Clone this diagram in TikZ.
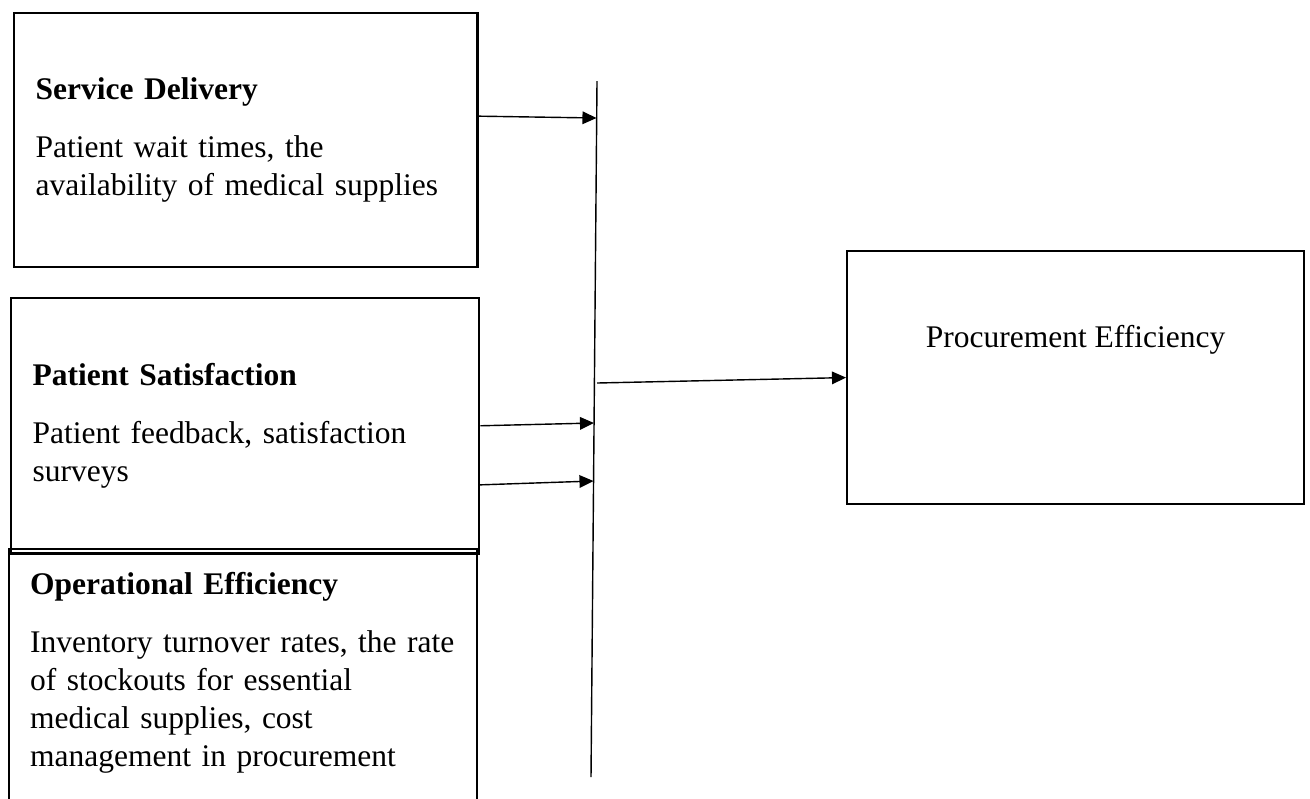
\documentclass[tikz,border=0pt]{standalone}
\usepackage{fontspec}
\setmainfont{Liberation Serif}
\usetikzlibrary{arrows.meta,positioning}
\tikzset{
  every node/.style={font=\fontsize{11.2}{13.5}\selectfont},
  factor/.style={draw, line width=0.8pt, anchor=north west, align=left,
                 inner xsep=0.27cm, inner ysep=0pt, text width=#1},
  link/.style={-{Triangle[length=5pt,width=4.5pt]}, line width=0.5pt}
}
\begin{document}
\begin{tikzpicture}[x=0.0125cm, y=-0.0125cm]
      \clip (0,0) rectangle (1310,798);
      \node (sd) [factor=5.25cm, minimum width=5.79cm, minimum height=3.175cm] at (13,12)
            {\textbf{Service Delivery}\\[7pt] Patient wait times, the\\ availability of medical supplies};
      \node (ps) [factor=5.31cm, minimum width=5.85cm, minimum height=3.19cm] at (10,297)
            {\textbf{Patient Satisfaction}\\[7pt] Patient feedback, satisfaction\\ surveys};
      \node (oe) [factor=5.31cm, minimum width=5.85cm, minimum height=3.275cm] at (8,548) {};
      \node (oetext) [anchor=north west, align=left, text width=5.31cm, inner sep=0pt]
            at ([xshift=0.27cm, yshift=-0.3cm]oe.north west)
            {\textbf{Operational Efficiency}\\[7pt] Inventory turnover rates, the rate\\ of stockouts for essential\\ medical supplies, cost\\ management in procurement};
      \node (pe) [draw, line width=0.8pt, anchor=north west, minimum width=5.71cm, minimum height=3.16cm] at (846,250) {};
      \node (pelabel) at ([yshift=-1.125cm]pe.north) {Procurement Efficiency};
      \coordinate (top) at (597,81);
      \coordinate (bot) at (591,777);
      \coordinate (j1) at (596.5,118);
      \coordinate (j2) at (594,423);
      \coordinate (j3) at (593.5,481);
      \coordinate (jout) at (597,383);
      \draw[line width=0.5pt] (top) -- (bot);
      \draw[link] ([yshift=0.3cm]sd.east) -- (j1);
      \draw[link] (ps.east) -- (j2);
      \draw[link] ([yshift=2.44cm]oe.east) -- (j3);
      \draw[link] (jout) -- (pe.west);
\end{tikzpicture}
\end{document}
